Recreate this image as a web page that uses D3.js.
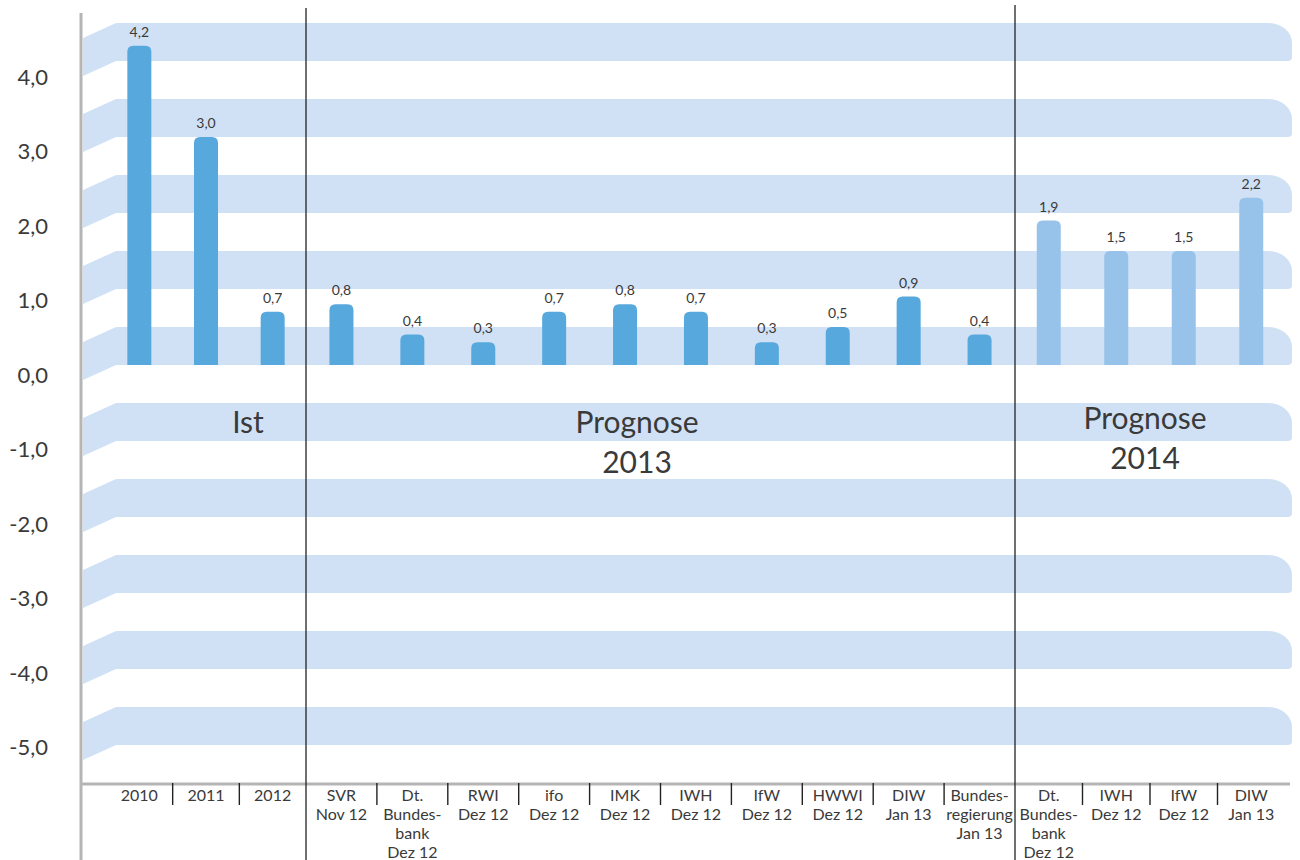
<!DOCTYPE html>
<html lang="de">
<head>
<meta charset="utf-8">
<script src="https://cdn.jsdelivr.net/npm/d3@7"></script>
<style>
  html, body { margin: 0; padding: 0; background: #fff; }
  svg { display: block; }
  text { font-family: Lato, "Open Sans", sans-serif; fill: #3a3a3a; }
</style>
</head>
<body>
<svg id="chart" width="1300" height="860"></svg>
<script>
// Wachstum des BIP: Ist-Werte und Prognosen (in %)
const istCategories = ["2010", "2011", "2012"];
const istValues = [4.2, 3.0, 0.7];

const prognose2013Categories = [
  "SVR\nNov 12", "Dt.\nBundes-\nbank\nDez 12", "RWI\nDez 12", "ifo\nDez 12",
  "IMK\nDez 12", "IWH\nDez 12", "IfW\nDez 12", "HWWI\nDez 12",
  "DIW\nJan 13", "Bundes-\nregierung\nJan 13"
];
const prognose2013Values = [0.8, 0.4, 0.3, 0.7, 0.8, 0.7, 0.3, 0.5, 0.9, 0.4];

const prognose2014Categories = ["Dt.\nBundes-\nbank\nDez 12", "IWH\nDez 12", "IfW\nDez 12", "DIW\nJan 13"];
const prognose2014Values = [1.9, 1.5, 1.5, 2.2];

const yTickValues = [4, 3, 2, 1, 0, -1, -2, -3, -4, -5];
const stripeStarts = [4, 3, 2, 1, 0, -1, -2, -3, -4, -5];
const stripeHeight = 0.5;

const groupTitles = [["Ist"], ["Prognose", "2013"], ["Prognose", "2014"]];

const svg = d3.select("#chart");
const de = d3.formatLocale({ decimal: ",", thousands: ".", grouping: [3], currency: ["", " €"], minus: "-" });
const fmt = de.format(".1f");

// vertical scale for the bars and stripes
const y = d3.scaleLinear().domain([-5.5, 4.5]).range([783, 23]);
// tick labels sit at the slanted front edge of the stripes
const yLabel = d3.scaleLinear().domain([-5, 4]).range([747.5, 77.5]);

const groups = [
  { cats: istCategories, values: istValues, range: [106, 306], color: "#56a8dd" },
  { cats: prognose2013Categories, values: prognose2013Values, range: [306, 1015], color: "#56a8dd" },
  { cats: prognose2014Categories, values: prognose2014Values, range: [1015, 1285], color: "#97c3ea" }
];
groups.forEach(g => {
  g.x = d3.scaleBand().domain(g.cats).range(g.range);
});

// background stripes with slanted left edge and rounded right end
const xs0 = 83, xs1 = 116, xs2 = 1292, skew = 15, rx = 24, ry = 20, rb = 4;
svg.append("g").selectAll("path")
  .data(stripeStarts)
  .join("path")
  .attr("fill", "#d0e1f5")
  .attr("d", k => {
    const top = y(k + stripeHeight), bot = y(k);
    return `M${xs0},${top + skew} L${xs1},${top} L${xs2 - rx},${top}
            A${rx},${ry} 0 0 1 ${xs2},${top + ry} L${xs2},${bot - rb}
            A${rb},${rb} 0 0 1 ${xs2 - rb},${bot} L${xs1},${bot} L${xs0},${bot + skew} Z`;
  });

// bars with rounded tops
const barW = 24, r = 6;
function barPath(cx, v) {
  const x0 = cx - barW / 2, x1 = cx + barW / 2, t = y(v), b = y(0);
  return `M${x0},${b} L${x0},${t + r} Q${x0},${t} ${x0 + r},${t} L${x1 - r},${t} Q${x1},${t} ${x1},${t + r} L${x1},${b} Z`;
}

groups.forEach(g => {
  const data = g.cats.map((c, i) => ({ c, v: g.values[i] }));
  const cx = d => g.x(d.c) + g.x.bandwidth() / 2;
  svg.append("g").selectAll("path")
    .data(data).join("path")
    .attr("fill", g.color)
    .attr("d", d => barPath(cx(d), d.v));
  svg.append("g").selectAll("text")
    .data(data).join("text")
    .attr("x", cx)
    .attr("y", d => y(d.v) - 9)
    .attr("text-anchor", "middle")
    .style("font-size", "14px")
    .text(d => fmt(d.v));
});

// axes lines
svg.append("line").attr("x1", 81).attr("x2", 81).attr("y1", 13).attr("y2", 860)
  .attr("stroke", "#b5b5b5").attr("stroke-width", 3);
svg.append("line").attr("x1", 81).attr("x2", 1290).attr("y1", y(-5.5) + 1).attr("y2", y(-5.5) + 1)
  .attr("stroke", "#b5b5b5").attr("stroke-width", 3);

// group separators
[[306, 8], [1015, 5]].forEach(([x, top]) => {
  svg.append("line").attr("x1", x).attr("x2", x).attr("y1", top).attr("y2", 860)
    .attr("stroke", "#222").attr("stroke-width", 1.3);
});

// y axis labels
const yAxis = d3.axisLeft(yLabel).tickValues(yTickValues).tickSize(0).tickPadding(0)
  .tickFormat(d => fmt(d));
const yg = svg.append("g").attr("transform", "translate(48,0)").call(yAxis);
yg.select(".domain").remove();
yg.selectAll("text").style("font-size", "22px").style("font-family", "Lato, sans-serif").attr("fill", "#3a3a3a");

// category labels and ticks
const axisY = y(-5.5);
groups.forEach(g => {
  const lab = svg.append("g");
  g.cats.forEach((c, i) => {
    const cx = g.x(c) + g.x.bandwidth() / 2;
    const t = lab.append("text").attr("text-anchor", "middle").style("font-size", "16px");
    c.split("\n").forEach((line, j) => {
      t.append("tspan").attr("x", cx).attr("y", axisY + 18 + j * 19).text(line);
    });
    if (i > 0) {
      const bx = g.x(c);
      lab.append("line").attr("x1", bx).attr("x2", bx).attr("y1", axisY).attr("y2", axisY + 22)
        .attr("stroke", "#222").attr("stroke-width", 1.4);
    }
  });
});

// group titles
const titlePos = [[248, 433], [637, 433], [1145, 429]];
groupTitles.forEach((lines, i) => {
  const t = svg.append("text").attr("text-anchor", "middle").style("font-size", "30px");
  lines.forEach((l, j) => {
    t.append("tspan").attr("x", titlePos[i][0]).attr("y", titlePos[i][1] + j * 40).text(l);
  });
});
</script>
</body>
</html>
